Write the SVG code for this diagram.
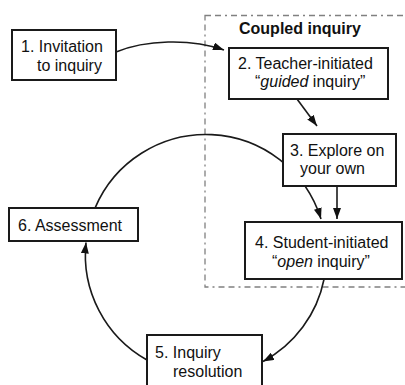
<svg xmlns="http://www.w3.org/2000/svg" width="405" height="385" viewBox="0 0 405 385">
  <style>
    .box { fill: #fff; stroke: #1a1a1a; stroke-width: 2; }
    .lbl { font-family: "Liberation Sans", Arial, sans-serif; font-size: 16px; fill: #111; }
    .title { font-family: "Liberation Sans", Arial, sans-serif; font-size: 16px; font-weight: bold; fill: #111; }
    .edge { fill: none; stroke: #1a1a1a; stroke-width: 1.6; }
    .frame { fill: none; stroke: #808080; stroke-width: 1.3; stroke-dasharray: 6 4 6 4 2 4; }
  </style>
  <defs>
    <marker id="arrow" markerUnits="userSpaceOnUse" markerWidth="11" markerHeight="8" refX="11" refY="4" orient="auto">
      <path d="M0,0 L11,4 L0,8 z" fill="#111"/>
    </marker>
  </defs>

  <rect width="405" height="385" fill="#fff"/>

  <!-- coupled inquiry region -->
  <g id="coupled">
    <rect class="frame" x="205" y="15.5" width="230" height="271.5"/>
    <text class="title" x="239" y="34">Coupled inquiry</text>
  </g>

  <g id="connectors">
    <path class="edge" d="M116,52 C145,40 190,38 224,50" marker-end="url(#arrow)"/>
    <path class="edge" d="M297,99 L317,126" marker-end="url(#arrow)"/>
    <path class="edge" d="M337,186 L337,219" marker-end="url(#arrow)"/>
    <!-- cycle arcs on a circle centred at (206,255), r=120.5 -->
    <path class="edge" d="M95,208.1 A120.5,120.5 0 0 1 321,219" marker-end="url(#arrow)"/>
    <path class="edge" d="M324.1,279 A120.5,120.5 0 0 1 263,361.5" marker-end="url(#arrow)"/>
    <path class="edge" d="M147,360 A120.5,120.5 0 0 1 86,242.5" marker-end="url(#arrow)"/>
  </g>

  <g id="n1">
    <rect class="box" x="12" y="30" width="104" height="50"/>
    <text class="lbl" x="21" y="52">1. Invitation</text>
    <text class="lbl" x="37" y="71">to inquiry</text>
  </g>

  <g id="n2">
    <rect class="box" x="229" y="48" width="159" height="51"/>
    <text class="lbl" x="238" y="69">2. Teacher-initiated</text>
    <text class="lbl" x="255" y="87">“<tspan font-style="italic">guided</tspan> inquiry”</text>
  </g>

  <g id="n3">
    <rect class="box" x="283" y="134" width="113" height="52"/>
    <text class="lbl" x="290" y="155.5">3. Explore on</text>
    <text class="lbl" x="300" y="174">your own</text>
  </g>

  <g id="n4">
    <rect class="box" x="245" y="222" width="157" height="57"/>
    <text class="lbl" x="255" y="247.5">4. Student-initiated</text>
    <text class="lbl" x="272" y="266.5">“<tspan font-style="italic">open</tspan> inquiry”</text>
  </g>

  <g id="n5">
    <rect class="box" x="147" y="335" width="115" height="60"/>
    <text class="lbl" x="155" y="357.5">5. Inquiry</text>
    <text class="lbl" x="173" y="376.5">resolution</text>
  </g>

  <g id="n6">
    <rect class="box" x="9" y="208" width="129" height="33"/>
    <text class="lbl" x="18" y="231">6. Assessment</text>
  </g>
</svg>
